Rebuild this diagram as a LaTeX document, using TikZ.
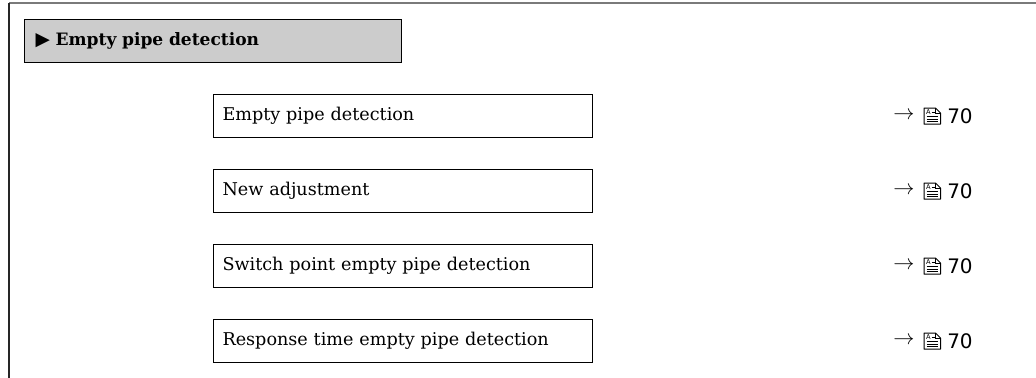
\documentclass[tikz,border=0pt]{standalone}
\usepackage{fontspec}
\setmainfont{DejaVu Serif}
\newfontfamily\refsans{DejaVu Sans}
\usepackage{xcolor}
\usetikzlibrary{positioning}

\definecolor{menugray}{HTML}{CCCCCC}
\definecolor{framegray}{HTML}{7A7A7A}

\tikzset{
  menubox/.style={draw=black,line width=0.9pt,fill=menugray,anchor=north west,
    minimum height=32.25pt,text width=266.25pt,inner xsep=8.25pt,align=left,
    font=\fontsize{12.8}{15}\selectfont\bfseries},
  parambox/.style={draw=black,line width=0.8pt,anchor=north west,
    minimum height=32.25pt,text width=270.75pt,inner xsep=6.75pt,align=left,
    font=\fontsize{13.2}{15}\selectfont},
  reftext/.style={inner sep=0pt,font=\refsans\fontsize{15}{17}\selectfont},
  pics/manualicon/.style={code={
    \draw[line width=0.75pt,line join=round]
      (0,-8) -- (11.5,-8) -- (16.5,-3) -- (16.5,8) -- (0,8) -- cycle;
    \draw[line width=0.6pt] (11.5,-8) -- (11.5,-3) -- (16.5,-3);
    \node[inner sep=0pt,font=\refsans\fontsize{5}{5}\selectfont] at (4.5,-3.8) {A};
    \draw[line width=0.6pt] (7.5,-3.2) -- (10.5,-3.2);
    \foreach \yy in {0.5,3,5.5}
      \draw[line width=0.6pt] (2.5,\yy) -- (14,\yy);
  }}
}

\begin{document}
\begin{tikzpicture}[x=0.75pt,y=-0.75pt]
  \useasboundingbox (0,0) rectangle (1036,378);

  % outer frame
  \draw[framegray,line width=1.5pt] (9,3) -- (1036,3);
  \draw[black!85,line width=1pt] (9,3) -- (9,378);

  % menu header
  \node[menubox] (menu) at (24,19) {{\refsans\fontsize{14}{14}\selectfont ▶} Empty pipe detection};

  % parameters with page references
  \coordinate (refcol) at (893,0);
  \foreach \i/\lbl in {1/Empty pipe detection,2/New adjustment,
                       3/Switch point empty pipe detection,
                       4/Response time empty pipe detection}{
    \pgfmathsetmacro{\ytop}{94+75*(\i-1)}
    \node[parambox] (param\i) at (213,\ytop) {\lbl};
    \node[reftext,anchor=west] (arrow\i) at (param\i.center -| refcol) {\scalebox{1.1}{$\rightarrow$}};
    \pic at ([xshift=23.25pt]arrow\i.west) {manualicon};
    \node[reftext,anchor=west] (page\i) at ([xshift=40.5pt]arrow\i.west) {70};
  }
\end{tikzpicture}
\end{document}
